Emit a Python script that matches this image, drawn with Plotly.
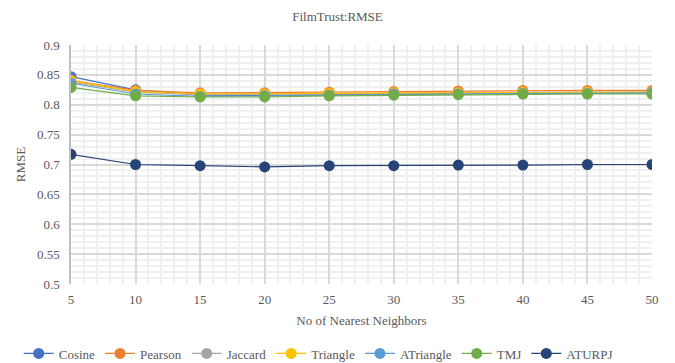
import plotly.graph_objects as go

neighbors = [5, 10, 15, 20, 25, 30, 35, 40, 45, 50]

cosine = [0.847, 0.825, 0.816, 0.815, 0.817, 0.818, 0.819, 0.820, 0.820, 0.820]
pearson = [0.841, 0.824, 0.820, 0.820, 0.821, 0.822, 0.823, 0.824, 0.824, 0.824]
jaccard = [0.838, 0.821, 0.817, 0.817, 0.818, 0.819, 0.820, 0.821, 0.821, 0.821]
triangle = [0.840, 0.822, 0.818, 0.818, 0.819, 0.820, 0.820, 0.821, 0.821, 0.821]
atriangle = [0.836, 0.818, 0.814, 0.815, 0.816, 0.818, 0.818, 0.819, 0.819, 0.820]
tmj = [0.829, 0.815, 0.813, 0.813, 0.815, 0.816, 0.817, 0.818, 0.818, 0.818]
aturpj = [0.717, 0.700, 0.698, 0.696, 0.698, 0.698, 0.699, 0.699, 0.700, 0.700]

series = [
    ("Cosine", cosine, "#4472C4"),
    ("Pearson", pearson, "#ED7D31"),
    ("Jaccard", jaccard, "#A5A5A5"),
    ("Triangle", triangle, "#FFC000"),
    ("ATriangle", atriangle, "#5B9BD5"),
    ("TMJ", tmj, "#70AD47"),
    ("ATURPJ", aturpj, "#264478"),
]

FONT = "Liberation Serif"
TXT = "#595959"
f13 = dict(family=FONT, size=13, color=TXT)

fig = go.Figure()
for name, vals, color in series:
    fig.add_trace(go.Scatter(
        x=neighbors, y=vals, name=name, mode="lines+markers",
        line=dict(color=color, width=1.2),
        marker=dict(color=color, size=11),
    ))

fig.update_layout(
    width=675, height=363,
    margin=dict(l=71, r=23, t=45, b=79, autoexpand=False),
    paper_bgcolor="white", plot_bgcolor="white",
    font=f13,
    title=dict(text="FilmTrust:RMSE", x=0.5, xanchor="center",
               xref="container", y=0.955, yanchor="middle", font=f13),
    showlegend=True,
    # legend anchored just left of the plot area so it can span the left margin too
    legend=dict(orientation="h", x=-0.09, xanchor="left",
                y=-0.228, yanchor="top",
                font=dict(family=FONT, size=13, color=TXT),
                itemwidth=30, tracegroupgap=0),
    xaxis=dict(
        range=[5, 50], tickmode="array", tickvals=neighbors,
        tickfont=f13, ticklabelstandoff=6,
        showgrid=True, gridcolor="#D9D9D9", gridwidth=1.5,
        minor=dict(dtick=1, showgrid=True, gridcolor="#F0F0F0", gridwidth=1.5),
        zeroline=False, showline=False, ticks="",
        title=dict(text="No of Nearest Neighbors", standoff=9, font=f13),
    ),
    yaxis=dict(
        range=[0.5, 0.9], dtick=0.05, tickformat="~g",
        tickfont=f13, ticklabelstandoff=7,
        showgrid=True, gridcolor="#D9D9D9", gridwidth=1.5,
        minor=dict(dtick=0.01, showgrid=True, gridcolor="#F0F0F0", gridwidth=1.5),
        zeroline=False, ticks="", showline=True, linecolor="#BFBFBF", linewidth=1.5,
        title=dict(text="RMSE", standoff=8, font=f13),
    ),
)

fig.write_html("out.html")
